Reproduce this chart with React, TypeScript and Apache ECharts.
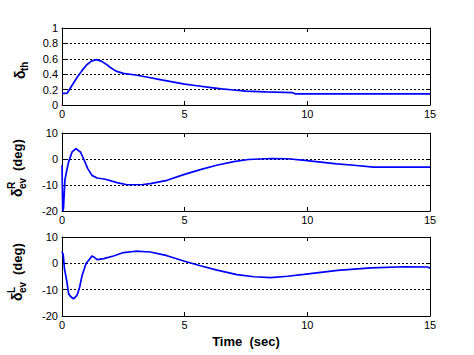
import React, { useEffect, useRef } from "react";
import * as echarts from "echarts";

const timeTicks = [0, 5, 10, 15];

const throttleData: [number, number][] = [
  [0, 0.15], [0.2, 0.15], [0.4, 0.25], [0.6, 0.35], [0.8, 0.44], [1.0, 0.52],
  [1.2, 0.57], [1.4, 0.59], [1.6, 0.57], [1.8, 0.53], [2.0, 0.48], [2.2, 0.44],
  [2.5, 0.41], [3.0, 0.39], [3.5, 0.36], [4.0, 0.33], [4.5, 0.3], [5.0, 0.27],
  [5.5, 0.25], [6.0, 0.23], [6.5, 0.21], [7.0, 0.195], [7.5, 0.18], [8.3, 0.17],
  [9.4, 0.16], [9.5, 0.145], [15, 0.145],
];

const elevRData: [number, number][] = [
  [0, -2.4], [0.03, -20], [0.06, -19], [0.12, -8], [0.18, -5], [0.27, -1.1],
  [0.41, 2.7], [0.57, 4.0], [0.75, 2.7], [0.88, 0.1], [1.05, -3.7], [1.22, -6.3],
  [1.43, -7.3], [1.77, -7.8], [2.24, -9.1], [2.65, -9.9], [3.3, -9.8], [3.6, -9.5],
  [4.28, -8.2], [4.96, -6], [5.64, -4.1], [6.3, -2.4], [7.0, -1.0], [7.6, -0.2],
  [8.5, 0.2], [9.2, 0.1], [9.9, -0.5], [10.55, -1.2], [11.2, -1.9], [11.9, -2.4],
  [12.7, -3.1], [15, -3.1],
];

const elevLData: [number, number][] = [
  [0, 4.5], [0.05, 3.2], [0.1, -2], [0.2, -7], [0.27, -11.6], [0.35, -12.6],
  [0.47, -13.5], [0.61, -12.2], [0.72, -9], [0.82, -4.6], [0.98, -0.1], [1.09, 1.2],
  [1.22, 2.8], [1.32, 2.3], [1.43, 1.4], [1.7, 1.8], [2.1, 2.8], [2.51, 4.1],
  [3.0, 4.6], [3.6, 4.3], [4.28, 2.9], [4.96, 0.9], [5.64, -0.9], [6.32, -2.6],
  [7.13, -4.3], [7.83, -5.1], [8.5, -5.4], [9.19, -4.9], [9.86, -4.2], [10.55, -3.4],
  [11.23, -2.7], [12.6, -1.7], [13.96, -1.3], [14.9, -1.4], [15, -1.9],
];

const panels = [
  { data: throttleData, min: 0, max: 1, interval: 0.2 },
  { data: elevRData, min: -20, max: 10, interval: 10 },
  { data: elevLData, min: -20, max: 10, interval: 10 },
];

const FONT = "Liberation Sans, Arial, sans-serif";

export default function App() {
  const ref = useRef<HTMLDivElement>(null);
  useEffect(() => {
    if (!ref.current) return;
    const chart = echarts.init(ref.current, null, { renderer: "svg" });
    const grids = [
      { left: 62, top: 28, width: 368, height: 77 },
      { left: 62, top: 133, width: 368, height: 78 },
      { left: 62, top: 237, width: 368, height: 79 },
    ];
    const xAxes: any[] = [];
    const yAxes: any[] = [];
    const series: any[] = [];
    panels.forEach((p, i) => {
      const base = {
        type: "value",
        gridIndex: i,
        min: timeTicks[0],
        max: timeTicks[timeTicks.length - 1],
        interval: timeTicks[1] - timeTicks[0],
        axisLine: { show: true, onZero: false, lineStyle: { color: "#000", width: 1 } },
        axisTick: { show: true, inside: true, length: 4, lineStyle: { color: "#000" } },
        splitLine: { show: false },
      };
      xAxes.push({
        ...base,
        position: "bottom",
        axisLabel: { show: true, color: "#000", fontSize: 11, fontFamily: FONT, margin: 3 },
      });
      xAxes.push({ ...base, position: "top", axisLabel: { show: false } });
      const ybase = {
        type: "value",
        gridIndex: i,
        min: p.min,
        max: p.max,
        interval: p.interval,
        axisLine: { show: true, onZero: false, lineStyle: { color: "#000", width: 1 } },
        axisTick: { show: true, inside: true, length: 4, lineStyle: { color: "#000" } },
      };
      yAxes.push({
        ...ybase,
        position: "left",
        axisLabel: { show: true, color: "#000", fontSize: 11, fontFamily: FONT, margin: 4 },
        splitLine: {
          show: true,
          showMinLine: false,
          showMaxLine: false,
          lineStyle: { color: "#000", type: [2, 2], width: 1 },
        },
      });
      yAxes.push({ ...ybase, position: "right", axisLabel: { show: false }, splitLine: { show: false } });
      series.push({
        type: "line",
        xAxisIndex: i * 2,
        yAxisIndex: i * 2,
        data: p.data,
        showSymbol: false,
        symbol: "none",
        lineStyle: { color: "#0000ff", width: 1.7 },
        z: 5,
      });
    });

    const labelText = (x: number, y: number, text: string, size: number) => ({
      type: "text",
      x,
      y,
      style: {
        text,
        font: `bold ${size}px ${FONT}`,
        fill: "#000",
        textAlign: "left",
        textVerticalAlign: "middle",
      },
    });

    const yTitle = (cx: number, cy: number, sup: string, sub: string, unit: string) => {
      const children: any[] = [labelText(-27, 0, "δ", 14)];
      if (sup) children.push(labelText(-19, -6, sup, 10));
      children.push(labelText(-19, sup ? 5 : 4, sub, 10));
      if (unit) children.push(labelText(-1, 0, unit, 13));
      return { type: "group", x: cx, y: cy, rotation: Math.PI / 2, children };
    };

    chart.setOption({
      animation: false,
      grid: grids.map((g) => ({ ...g, show: false })),
      xAxis: xAxes,
      yAxis: yAxes,
      series,
      graphic: [
        yTitle(20, 52, "", "th", ""),
        yTitle(17, 170, "R", "ev", "(deg)"),
        yTitle(17, 274, "L", "ev", "(deg)"),
        {
          type: "text",
          x: 246,
          y: 341,
          style: {
            text: "Time  (sec)",
            font: `bold 13px ${FONT}`,
            fill: "#000",
            textAlign: "center",
            textVerticalAlign: "middle",
          },
        },
      ],
    });
    return () => chart.dispose();
  }, []);
  return (
    <div
      ref={ref}
      style={{ position: "fixed", left: 0, top: 0, width: 474, height: 355, background: "#fff" }}
    />
  );
}
